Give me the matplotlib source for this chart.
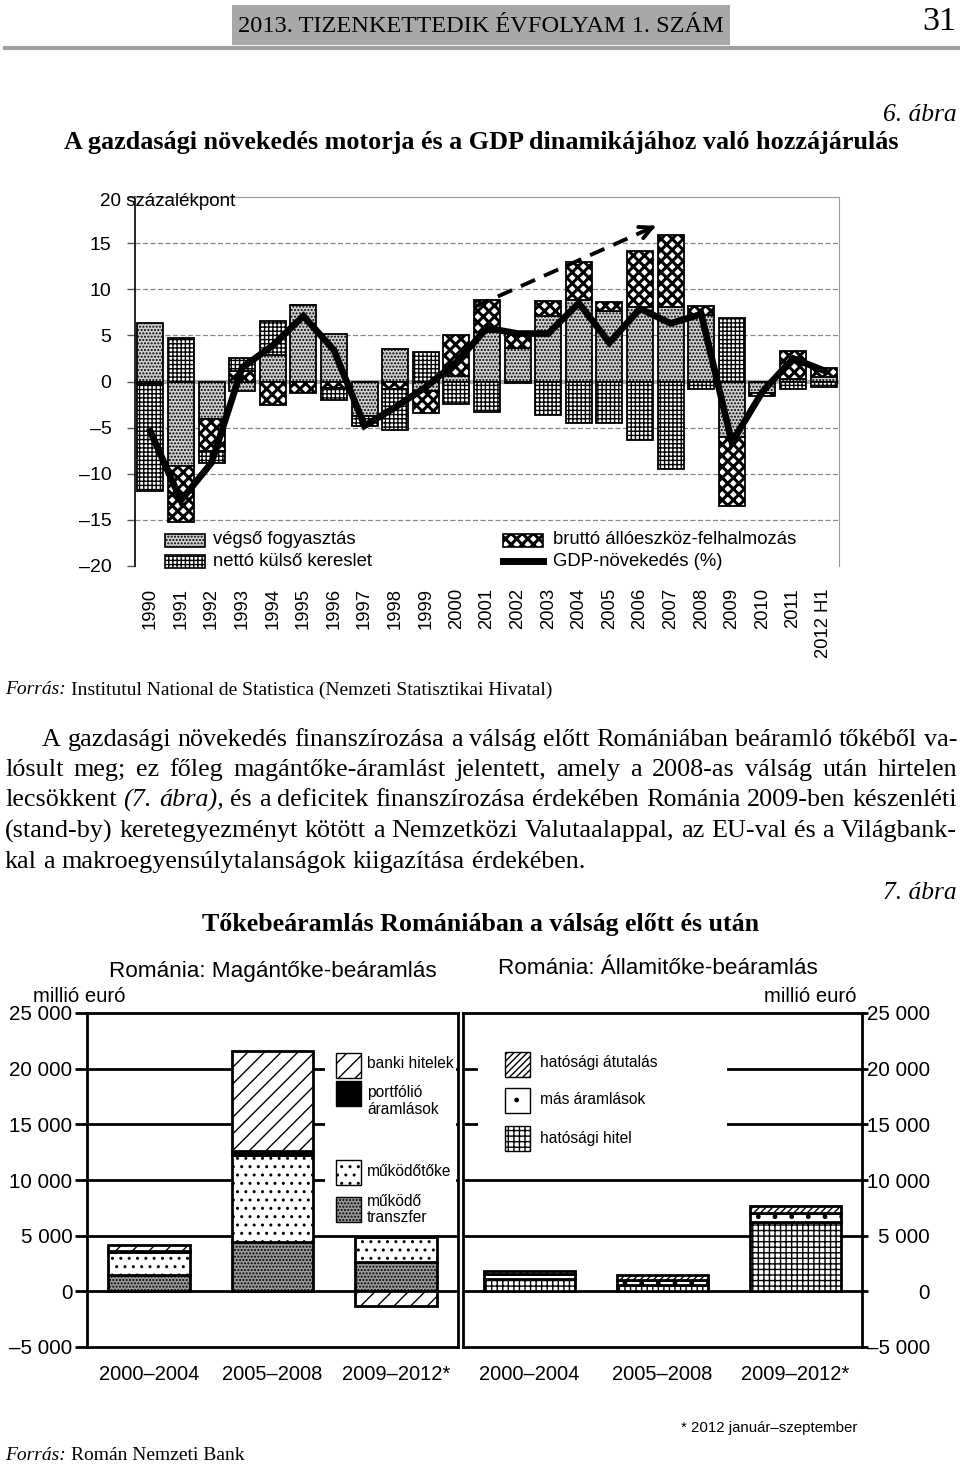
import matplotlib
matplotlib.use("Agg")
import matplotlib.pyplot as plt
import matplotlib.transforms as mtransforms
from matplotlib.patches import Rectangle
from matplotlib.lines import Line2D
import numpy as np

plt.rcParams['font.family'] = ['Liberation Sans', 'DejaVu Sans']
plt.rcParams['hatch.linewidth'] = 1.0
SERIF = ['Liberation Serif', 'DejaVu Serif']

# --- 6. ábra: contributions to GDP growth (százalékpont) ---
years = ["1990", "1991", "1992", "1993", "1994", "1995", "1996", "1997", "1998",
         "1999", "2000", "2001", "2002", "2003", "2004", "2005", "2006", "2007",
         "2008", "2009", "2010", "2011", "2012 H1"]
vegso = [6.3, -9.2, -4.1, -1.0, 2.9, 8.3, 5.1, -3.7, 3.5, -1.0, 0.6, 5.4,
         3.6, 7.1, 8.8, 7.6, 8.1, 8.1, 7.2, -6.0, -1.2, 0.3, 0.5]
brutto = [-0.3, -6.0, -3.4, 1.1, -2.5, -1.2, -0.7, 0.0, -0.8, -2.4, 4.4, 3.4,
          1.5, 1.6, 4.2, 1.0, 6.1, 7.8, 1.0, -7.5, -0.4, 3.0, 1.0]
netto = [-11.6, 4.7, -1.3, 1.5, 3.7, 0.0, -1.3, -1.1, -4.5, 3.2, -2.4, -3.3,
         -0.2, -3.6, -4.5, -4.5, -6.3, -9.5, -0.8, 6.9, 0.0, -0.8, -0.6]
gdp = [-5.4, -12.9, -8.8, 1.5, 3.9, 7.1, 3.4, -4.8, -2.8, -0.6, 2.1, 5.8,
       5.2, 5.2, 8.5, 4.2, 7.9, 6.3, 7.3, -6.6, -1.1, 2.5, 1.2]
trend_start = (10.6, 8.1)
trend_end = (16.6, 17.0)

# --- 7. ábra: capital inflows (millió euró) ---
periods = ["2000–2004", "2005–2008", "2009–2012*"]
mukodo_transzfer = [1500, 4470, 2670]
mukodotoke = [2050, 7750, 2190]
portfolio = [50, 360, 0]
banki_hitelek = [600, 9010, -1350]
hatosagi_hitel = [1150, 540, 6260]
mas_aramlasok = [380, 510, 745]
hatosagi_atutalas = [260, 390, 685]

W, H = 960, 1467
fig = plt.figure(figsize=(W / 100, H / 100), dpi=100)
px = mtransforms.Affine2D().scale(1.0 / W, -1.0 / H).translate(0, 1) + fig.transFigure
r = fig.canvas.get_renderer()


def box(l, t, rt, b):
    return [l / W, 1 - b / H, (rt - l) / W, (b - t) / H]


def ptext(x, y, s, **kw):
    kw.setdefault('va', 'center')
    return fig.text(x, y, s, transform=px, **kw)


def fit(t, width):
    w = t.get_window_extent(renderer=r).width
    t.set_fontsize(t.get_fontsize() * width / w)
    return t


def hatch_lw(artists, lw):
    for a in artists:
        if hasattr(a, 'set_hatch_linewidth'):
            a.set_hatch_linewidth(lw)


def key(x0, y0, x1, y1, hlw=None, **st):
    p = Rectangle((x0, y0), x1 - x0, y1 - y0, transform=px, **st)
    if hlw:
        hatch_lw([p], hlw)
    fig.add_artist(p)


def source(y, rest, size=14):
    a = ptext(5, y, "Forrás:", family=SERIF, style='italic', fontsize=size)
    w = a.get_window_extent(renderer=r).width
    ptext(5 + w + 5, y, rest, family=SERIF, fontsize=size)


# header
key(232, 5, 730, 45, facecolor='#a8a8a8', edgecolor='none')
fit(ptext(481, 26, "2013. TIZENKETTEDIK ÉVFOLYAM 1. SZÁM", ha='center',
          family=SERIF, fontsize=18), 486)
fit(ptext(956, 22, "31", ha='right', family=SERIF, fontsize=26), 34)
fig.add_artist(Line2D([5, 960], [48, 48], transform=px, color='#a0a0a0', lw=3))

fit(ptext(957, 115, "6. ábra", ha='right', style='italic', family=SERIF, fontsize=16), 74)
fit(ptext(481, 143, "A gazdasági növekedés motorja és a GDP dinamikájához való hozzájárulás",
          ha='center', family=SERIF, weight='bold', fontsize=18), 832)

# ---------------- top chart ----------------
ax = fig.add_axes(box(135, 197, 839, 566))
x = np.arange(len(years))
pos = np.zeros(len(years))
neg = np.zeros(len(years))
st_vegso = dict(facecolor='#d0d0d0', hatch='.....')
st_brutto = dict(facecolor='white', hatch='xxx')
st_netto = dict(facecolor='white', hatch='++++')
for vals, st, hl in [(vegso, st_vegso, 1.0), (brutto, st_brutto, 2.2), (netto, st_netto, 1.0)]:
    v = np.array(vals)
    base = np.where(v >= 0, pos, neg)
    bars = ax.bar(x, v, 0.85, bottom=base, edgecolor='black', linewidth=1.3, zorder=3, **st)
    hatch_lw(bars, hl)
    pos += np.where(v > 0, v, 0)
    neg += np.where(v < 0, v, 0)

ax.plot(x, gdp, color='black', lw=4.8, zorder=5, solid_joinstyle='miter')
ax.plot([trend_start[0], trend_end[0]], [trend_start[1], trend_end[1]],
        color='black', lw=2.8, ls=(0, (4, 2.5)), zorder=6)
dx = trend_end[0] - trend_start[0]
dy = trend_end[1] - trend_start[1]
ax.annotate('', xy=trend_end, xytext=(trend_end[0] - 0.05 * dx, trend_end[1] - 0.05 * dy),
            arrowprops=dict(arrowstyle='->', lw=2.8, color='black', mutation_scale=22),
            zorder=6)

ax.set_xlim(-0.5, 22.5)
ax.set_ylim(-20, 20)
ax.set_yticks(range(-20, 21, 5))
ax.set_yticklabels(['–20', '–15', '–10', '–5', '0', '5', '10', '15', ''])
for yv in (-15, -10, -5, 5, 10, 15):
    ax.axhline(yv, color='#888888', lw=0.9, ls=(0, (4, 2)), zorder=1)
ax.axhline(0, color='#aaaaaa', lw=3, zorder=2)
ax.spines['bottom'].set_visible(False)
ax.spines['top'].set_color('#999999')
ax.spines['right'].set_color('#999999')
ax.spines['left'].set_linewidth(1.2)
ax.tick_params(axis='y', length=6, width=1, pad=11, labelsize=14, color='#555555')
ax.set_xticks(x)
ax.set_xticklabels(years, rotation=90, fontsize=13.3)
ax.tick_params(axis='x', length=0, pad=16)
ptext(100, 201, "20 százalékpont", ha='left', fontsize=13.5)

# top legend
key(165, 534, 205, 547, edgecolor='black', lw=1.2, **st_vegso)
key(165, 555, 205, 568, edgecolor='black', lw=1.2, **st_netto)
key(503, 534, 543, 547, edgecolor='black', lw=1.2, hlw=2.2, **st_brutto)
fig.add_artist(Line2D([503, 543], [561, 561], transform=px, color='black', lw=5))
ptext(213, 540, "végső fogyasztás", fontsize=13.3)
ptext(213, 561, "nettó külső kereslet", fontsize=13.3)
ptext(553, 540, "bruttó állóeszköz-felhalmozás", fontsize=13.3)
ptext(553, 561, "GDP-növekedés (%)", fontsize=13.3)

source(690, "Institutul National de Statistica (Nemzeti Statisztikai Hivatal)")

# ---------------- paragraph ----------------
par_lines = [
    "A gazdasági növekedés finanszírozása a válság előtt Romániában beáramló tőkéből va-",
    "lósult meg; ez főleg magántőke-áramlást jelentett, amely a 2008-as válság után hirtelen",
    "lecsökkent (7. ábra), és a deficitek finanszírozása érdekében Románia 2009-ben készenléti",
    "(stand-by) keretegyezményt kötött a Nemzetközi Valutaalappal, az EU-val és a Világbank-",
    "kal a makroegyensúlytalanságok kiigazítása érdekében.",
]
par_y = [740, 770, 800, 831, 862]
par_x0 = [42, 5, 5, 5, 5]
par_x1 = 957
italic_words = ('(7.', 'ábra),')

probe = []
for i, line in enumerate(par_lines[:4]):
    t = ptext(0, 0, line, family=SERIF, fontsize=16)
    probe.append((par_x1 - par_x0[i]) / t.get_window_extent(renderer=r).width)
    t.remove()
psize = 16 * min(probe) * 0.995

for i, line in enumerate(par_lines):
    words = line.split(' ')
    ts = [ptext(0, par_y[i], w, family=SERIF, fontsize=psize,
                style='italic' if w in italic_words else 'normal') for w in words]
    ws = [t.get_window_extent(renderer=r).width for t in ts]
    if i < 4:
        gap = (par_x1 - par_x0[i] - sum(ws)) / (len(ws) - 1)
    else:
        gap = psize * 0.25 * 100 / 72
    xx = par_x0[i]
    for t, w in zip(ts, ws):
        t.set_x(xx)
        xx += w + gap

fit(ptext(957, 893, "7. ábra", ha='right', style='italic', family=SERIF, fontsize=16), 74)
fit(ptext(481, 925, "Tőkebeáramlás Romániában a válság előtt és után",
          ha='center', family=SERIF, weight='bold', fontsize=18), 557)

# ---------------- bottom charts ----------------
st_bank = dict(facecolor='white', hatch='//')
st_port = dict(facecolor='black')
st_mtoke = dict(facecolor='white', hatch='..')
st_trans = dict(facecolor='#9a9a9a', hatch='.....')
st_atut = dict(facecolor='white', hatch='/////')
st_mas = dict(facecolor='white', hatch='.')
st_hitel = dict(facecolor='white', hatch='+++')

axL = fig.add_axes(box(87, 1013, 458, 1347))
axR = fig.add_axes(box(463, 1013, 862, 1347))
px_ = np.arange(len(periods))
for a, stack in [(axL, [(mukodo_transzfer, st_trans), (mukodotoke, st_mtoke),
                        (portfolio, st_port), (banki_hitelek, st_bank)]),
                 (axR, [(hatosagi_hitel, st_hitel), (mas_aramlasok, st_mas),
                        (hatosagi_atutalas, st_atut)])]:
    pos = np.zeros(len(periods))
    neg = np.zeros(len(periods))
    wbar = 0.66 if a is axL else 0.68
    for vals, st in stack:
        v = np.array(vals, dtype=float)
        base = np.where(v >= 0, pos, neg)
        a.bar(px_, v, wbar, bottom=base, edgecolor='black', linewidth=2, zorder=3, **st)
        pos += np.where(v > 0, v, 0)
        neg += np.where(v < 0, v, 0)
    a.set_xlim(-0.5, 2.5)
    a.set_ylim(-5000, 25000)
    for yv in (0, 5000, 10000, 15000, 20000):
        a.axhline(yv, color='black', lw=2, zorder=1)
    for s in a.spines.values():
        s.set_linewidth(2)
    a.set_yticks(range(-5000, 25001, 5000))
    a.set_yticklabels(['–5 000', '0', '5 000', '10 000', '15 000', '20 000', '25 000'])
    a.set_xticks(px_)
    a.set_xticklabels(periods, fontsize=14.5)
    a.tick_params(axis='x', length=0, pad=13)

axL.tick_params(axis='y', length=8.6, width=2, pad=2, labelsize=14.8)
axR.yaxis.tick_right()
axR.tick_params(axis='y', length=4.3, width=2, pad=44.5, labelsize=14.8)
for lab in axR.get_yticklabels():
    lab.set_horizontalalignment('right')

fit(ptext(273, 971, "Románia: Magántőke-beáramlás", ha='center', fontsize=16), 327)
fit(ptext(658, 968, "Románia: Államitőke-beáramlás", ha='center', fontsize=16), 320)
ptext(33, 996, "millió euró", ha='left', fontsize=14.6)
ptext(857, 996, "millió euró", ha='right', fontsize=14.6)

# left legend
key(325, 1040, 456, 1232, facecolor='white', edgecolor='none', zorder=4)
key(336, 1053, 361, 1078, edgecolor='black', lw=1, zorder=5, **st_bank)
key(336, 1081, 361, 1106, edgecolor='black', lw=1, zorder=5, **st_port)
key(336, 1160, 361, 1185, edgecolor='black', lw=1, zorder=5, **st_mtoke)
key(336, 1197, 361, 1222, edgecolor='black', lw=1, zorder=5, **st_trans)
ptext(367, 1064, "banki hitelek", fontsize=11.2, zorder=6)
ptext(367, 1093, "portfólió", fontsize=11.2, zorder=6)
ptext(367, 1110, "áramlások", fontsize=11.2, zorder=6)
ptext(367, 1171, "működőtőke", fontsize=11.2, zorder=6)
ptext(367, 1201, "működő", fontsize=11.2, zorder=6)
ptext(367, 1217, "transzfer", fontsize=11.2, zorder=6)

# right legend
key(478, 1040, 727, 1165, facecolor='white', edgecolor='none', zorder=4)
key(505, 1052, 530, 1077, edgecolor='black', lw=1, zorder=5, **st_atut)
key(505, 1088, 530, 1113, edgecolor='black', lw=1, zorder=5, **st_mas)
key(505, 1126, 530, 1151, edgecolor='black', lw=1, zorder=5, **st_hitel)
ptext(540, 1063, "hatósági átutalás", fontsize=11.2, zorder=6)
ptext(540, 1100, "más áramlások", fontsize=11.2, zorder=6)
ptext(540, 1138, "hatósági hitel", fontsize=11.2, zorder=6)

fit(ptext(857, 1428, "* 2012 január–szeptember", ha='right', fontsize=10.5), 177)
source(1455, "Román Nemzeti Bank")

fig.savefig("out.png", dpi=100)
